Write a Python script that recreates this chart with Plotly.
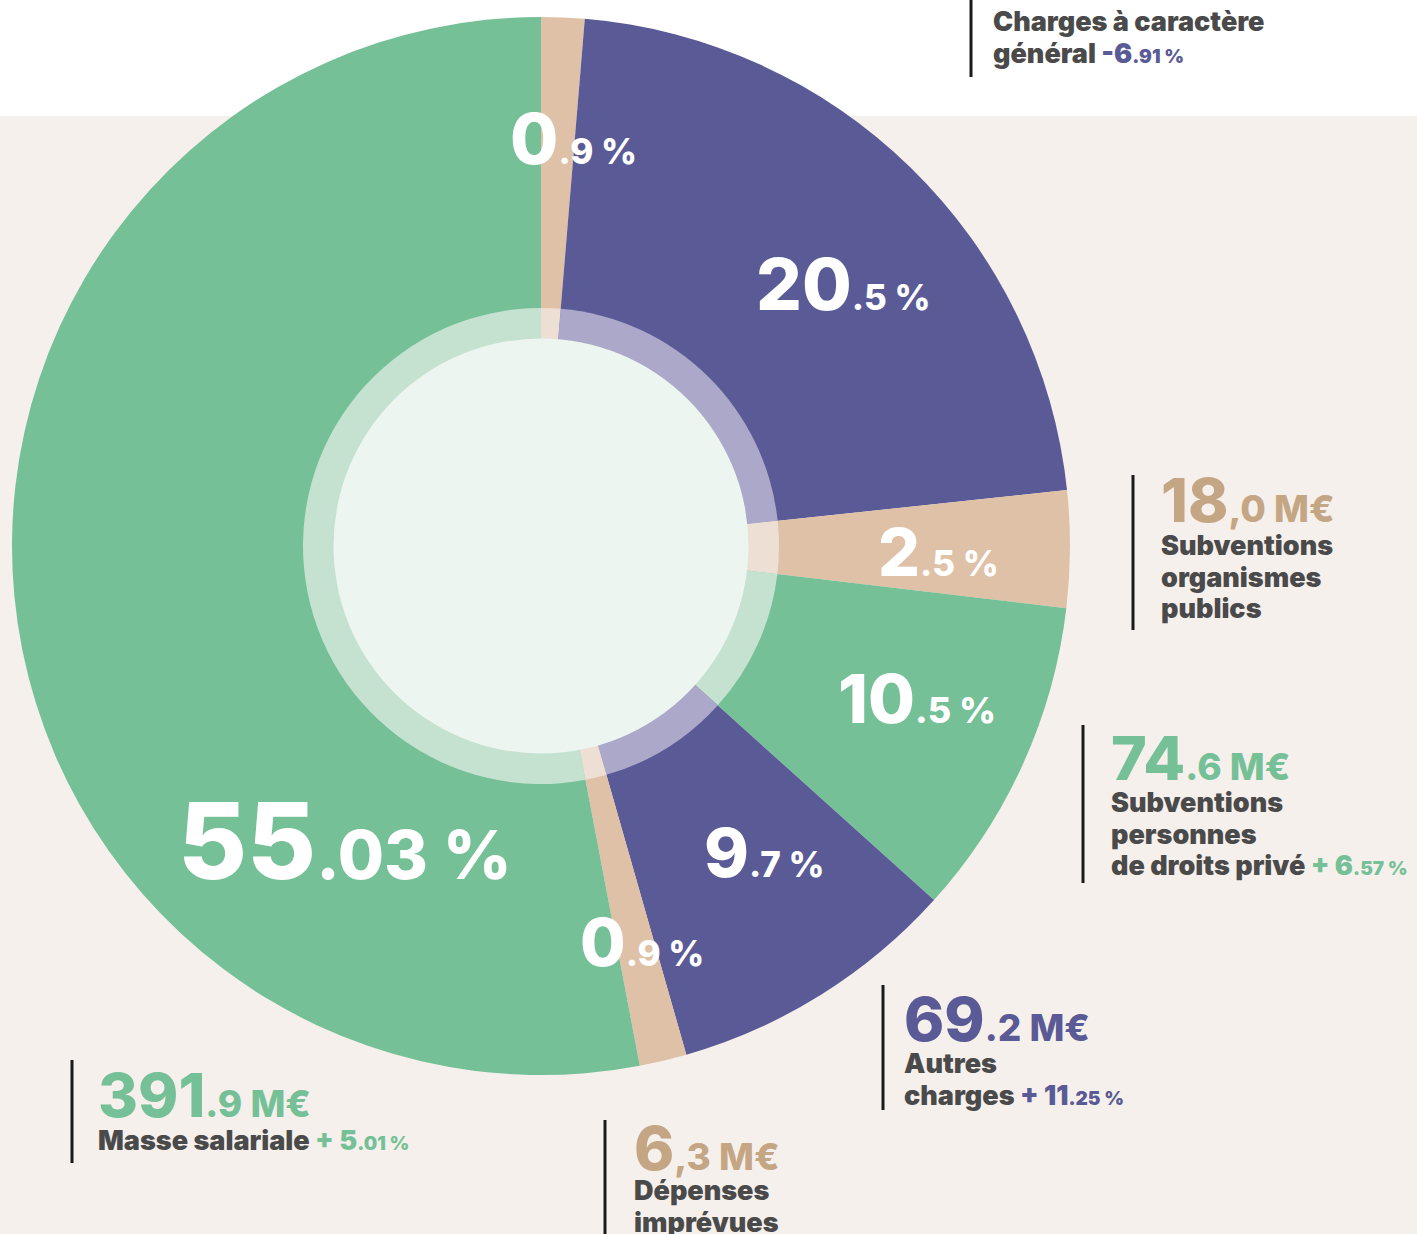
import plotly.graph_objects as go

W, H = 1417, 1234

# ---------------- data ----------------
categories = ["Autres dépenses", "Charges à caractère général", "Subventions organismes publics",
              "Subventions personnes de droits privé", "Autres charges", "Dépenses imprévues",
              "Masse salariale"]
slice_share = [1.32, 22.0, 3.56, 9.8, 8.9, 1.44, 53.0]        # drawn share of each slice (%)
pct_int = ["0", "20", "2", "10", "9", "0", "55"]
pct_dec = [".9 %", ".5 %", ".5 %", ".5 %", ".7 %", ".9 %", ".03 %"]

amount_int = ["18", "74", "69", "391", "6"]
amount_dec = [",0 M€", ".6 M€", ".2 M€", ".9 M€", ",3 M€"]
amount_lines = [["Subventions", "organismes", "publics"],
                ["Subventions", "personnes", "de droits privé"],
                ["Autres", "charges"],
                ["Masse salariale"],
                ["Dépenses", "imprévues"]]
amount_evol_sign = ["", "+ ", "+ ", "+ ", ""]
amount_evol_int = ["", "6", "11", "5", ""]
amount_evol_dec = ["", ".57 %", ".25 %", ".01 %", ""]

top_lines = ["Charges à caractère", "général"]
top_evol_int = "-6"
top_evol_dec = ".91 %"

# ---------------- styles ----------------
GREEN, PURPLE, BEIGE = "#75C097", "#5A5A96", "#DFC1A8"
L_GREEN, L_PURPLE, L_BEIGE = "#C4E2CF", "#ACA8CA", "#EDDFD3"
CENTER = "#ECF5EF"
BG = "#F5F0EC"
TEXT = "#4A4A4A"
BEIGE_TXT = "#C4A584"
slice_colors = [BEIGE, PURPLE, BEIGE, GREEN, PURPLE, BEIGE, GREEN]
ring_colors = [L_BEIGE, L_PURPLE, L_BEIGE, L_GREEN, L_PURPLE, L_BEIGE, L_GREEN]
FONT = "Inter"

CX, CY = 541, 546
R_OUT, R_RING, R_IN = 529, 238, 207.5


def dom(r):
    return dict(x=[(CX - r) / W, (CX + r) / W], y=[1 - (CY + r) / H, 1 - (CY - r) / H])


def px(x):
    return x / W


def py(y):
    return 1 - y / H


fig = go.Figure()
common = dict(sort=False, direction="clockwise", rotation=0, textinfo="none",
              hoverinfo="skip", showlegend=False)
fig.add_trace(go.Pie(labels=categories, values=slice_share, domain=dom(R_OUT),
                     marker=dict(colors=slice_colors, line=dict(width=0)), **common))
fig.add_trace(go.Pie(labels=categories, values=slice_share, domain=dom(R_RING),
                     marker=dict(colors=ring_colors, line=dict(width=0)), **common))
fig.add_trace(go.Pie(labels=["centre"], values=[1], domain=dom(R_IN),
                     marker=dict(colors=[CENTER], line=dict(width=0)), **common))

annotations = []


def add(x, y, text, size, color, anchor="left", weight=900):
    annotations.append(dict(x=px(x), y=py(y), xref="paper", yref="paper", text=text,
                            showarrow=False, xanchor=anchor, yanchor="middle",
                            font=dict(family=FONT, size=size, color=color, weight=weight)))


def two(big, small, bs, ss):
    return (f'<span style="font-size:{bs}px">{big}</span>'
            f'<span style="font-size:{ss}px">{small}</span>')


# percentage labels inside the slices
pct_pos = [(508, 138, 70, 35), (754, 284, 72, 35), (876, 552, 66, 35), (836, 698, 68, 36),
           (702, 852, 68, 35), (578, 942, 66, 35), (176, 841, 106, 67)]
for (x, y, bs, ss), bi, sm in zip(pct_pos, pct_int, pct_dec):
    add(x, y, two(bi, sm, bs, ss), bs, "white", weight=800)

# amount blocks
amount_colors = [BEIGE_TXT, GREEN, PURPLE, GREEN, BEIGE_TXT]
amount_pos = [(1159, 500, 545), (1109, 758, 802), (902, 1019, 1063), (96, 1095, 1140), (632, 1148, 1190)]
LINE_STEP = 32
for i in range(len(amount_int)):
    x, yv, yl = amount_pos[i]
    add(x, yv, two(amount_int[i], amount_dec[i], 61, 37), 61, amount_colors[i], weight=800)
    lines = amount_lines[i]
    for j, ln in enumerate(lines):
        txt = ln
        if j == len(lines) - 1 and amount_evol_int[i]:
            txt = (ln + f' <span style="color:{amount_colors[i]}">{amount_evol_sign[i]}{amount_evol_int[i]}'
                   f'<span style="font-size:19px">{amount_evol_dec[i]}</span></span>')
        add(x, yl + j * LINE_STEP, txt, 27, TEXT)

# top block
for j, ln in enumerate(top_lines):
    txt = ln
    if j == len(top_lines) - 1:
        txt = (ln + f' <span style="color:{PURPLE}">{top_evol_int}'
               f'<span style="font-size:19px">{top_evol_dec}</span></span>')
    add(991, 22 + j * 31, txt, 27, TEXT)

# vertical rules
rules = [(971, 0, 77), (1133, 475, 630), (1083, 725, 883), (883, 985, 1110),
         (72, 1060, 1163), (605, 1120, 1234)]
shapes = [dict(type="rect", xref="paper", yref="paper", x0=0, x1=1, y0=py(116), y1=1,
               fillcolor="white", line=dict(width=0), layer="below")]
for x, y0, y1 in rules:
    shapes.append(dict(type="line", xref="paper", yref="paper", x0=px(x), x1=px(x),
                       y0=py(y0), y1=py(y1), line=dict(color="#1A1A1A", width=3)))

fig.update_layout(width=W, height=H, margin=dict(l=0, r=0, t=0, b=0),
                  paper_bgcolor=BG, plot_bgcolor=BG,
                  annotations=annotations, shapes=shapes)
fig.write_html("out.html", config={"displayModeBar": False},
               post_script="document.body.style.margin='0';document.body.style.padding='0';")
